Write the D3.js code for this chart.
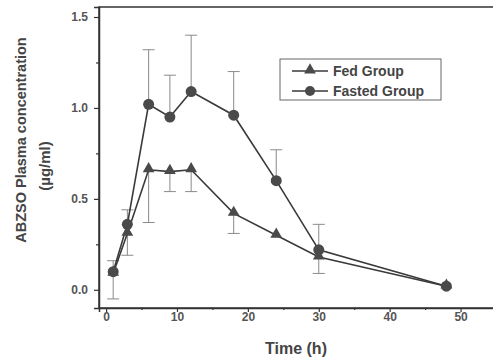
<!DOCTYPE html>
<html>
<head>
<meta charset="utf-8">
<script src="https://cdn.jsdelivr.net/npm/d3@7"></script>
<style>
  body { margin: 0; background: #fff; }
  svg { display: block; font-family: Arial, "Liberation Sans", sans-serif; }
</style>
</head>
<body>
<svg id="chart" width="493" height="360"></svg>
<script>
// sampling times (h)
const times = [1, 3, 6, 9, 12, 18, 24, 30, 48];
// mean plasma concentration (µg/ml)
const fedMean = [0.09, 0.31, 0.66, 0.65, 0.66, 0.42, 0.30, 0.18, 0.02];
const fastedMean = [0.10, 0.36, 1.02, 0.95, 1.09, 0.96, 0.60, 0.22, 0.02];
// one-sided SD bars: fed drawn down, fasted drawn up
const fedErr = [0.14, 0.12, 0.29, 0.11, 0.12, 0.11, 0, 0.09, 0];
const fastedErr = [0.06, 0.08, 0.30, 0.23, 0.31, 0.24, 0.17, 0.14, 0];

const xTicks = [0, 10, 20, 30, 40, 50];
const xMinor = [5, 15, 25, 35, 45];
const yTicks = [0.0, 0.5, 1.0, 1.5];
const yMinor = [0.25, 0.75, 1.25];

const svg = d3.select('#chart');
const margin = { top: 7, right: -3, bottom: 52, left: 99 };
const width = 493 - margin.left - margin.right;
const height = 360 - margin.top - margin.bottom;

const g = svg.append('g').attr('transform', `translate(${margin.left},${margin.top})`);

const x = d3.scaleLinear().domain([-1, 55]).range([0, width]);
const y = d3.scaleLinear().domain([-0.1, 1.555]).range([height, 0]);

const axisColor = '#333';
const labelColor = '#555';

// frame
g.append('rect')
  .attr('width', width).attr('height', height)
  .attr('fill', 'none').attr('stroke', axisColor).attr('stroke-width', 1.5);

// x axis
g.append('g').attr('transform', `translate(0,${height})`)
  .call(d3.axisBottom(x).tickValues(xTicks).tickSize(4).tickPadding(0).tickFormat(d3.format('d')));
g.append('g').attr('transform', `translate(0,${height})`)
  .call(d3.axisBottom(x).tickValues(xMinor).tickSize(2).tickFormat(''))
  .call(a => a.select('.domain').remove());

// y axis
g.append('g')
  .call(d3.axisLeft(y).tickValues(yTicks).tickSize(5).tickPadding(6).tickFormat(d3.format('.1f')));
g.append('g')
  .call(d3.axisLeft(y).tickValues(yMinor).tickSize(3).tickFormat(''))
  .call(a => a.select('.domain').remove());

g.selectAll('.domain').attr('stroke', axisColor).attr('stroke-width', 1.5);
g.selectAll('.tick line').attr('stroke', axisColor).attr('stroke-width', 1.2);
g.selectAll('.tick text')
  .attr('fill', labelColor).attr('font-size', 12).attr('font-weight', 'bold');

// error bars
function errorBars(vals, errs, dir) {
  const eg = g.append('g').attr('stroke', '#8a8a8a').attr('stroke-width', 1).attr('fill', 'none');
  times.forEach((t, i) => {
    if (!errs[i]) return;
    const y0 = y(vals[i]);
    const y1 = y(vals[i] + dir * errs[i]);
    eg.append('line').attr('x1', x(t)).attr('x2', x(t)).attr('y1', y0).attr('y2', y1);
    eg.append('line').attr('x1', x(t) - 6).attr('x2', x(t) + 6).attr('y1', y1).attr('y2', y1);
  });
}
errorBars(fastedMean, fastedErr, 1);
errorBars(fedMean, fedErr, -1);

const line = d3.line().x((d, i) => x(times[i])).y(d => y(d));
const lineColor = '#3a3a3a';
const markColor = '#4a4a4a';

g.append('path').datum(fedMean).attr('d', line)
  .attr('fill', 'none').attr('stroke', lineColor).attr('stroke-width', 1.6);
g.append('path').datum(fastedMean).attr('d', line)
  .attr('fill', 'none').attr('stroke', lineColor).attr('stroke-width', 1.6);

const tri = d3.symbol().type(d3.symbolTriangle).size(60);

g.selectAll('.fasted').data(fastedMean).enter().append('circle')
  .attr('class', 'fasted')
  .attr('cx', (d, i) => x(times[i])).attr('cy', d => y(d)).attr('r', 5.5)
  .attr('fill', markColor);

g.selectAll('.fed').data(fedMean).enter().append('path')
  .attr('class', 'fed')
  .attr('d', tri)
  .attr('transform', (d, i) => `translate(${x(times[i])},${y(d) - 1})`)
  .attr('fill', markColor);

// legend
const legend = svg.append('g').attr('transform', 'translate(280,59)');
legend.append('rect').attr('width', 161).attr('height', 41)
  .attr('fill', '#fff').attr('stroke', '#666').attr('stroke-width', 1);

const items = [
  { label: 'Fed Group', symbol: 'tri' },
  { label: 'Fasted Group', symbol: 'circle' }
];
items.forEach((it, i) => {
  const ly = 12 + i * 20;
  const row = legend.append('g').attr('transform', `translate(0,${ly})`);
  row.append('line').attr('x1', 12).attr('x2', 48).attr('y1', 0).attr('y2', 0)
    .attr('stroke', lineColor).attr('stroke-width', 1.5);
  if (it.symbol === 'tri') {
    row.append('path').attr('d', tri).attr('transform', 'translate(30,-1)').attr('fill', markColor);
  } else {
    row.append('circle').attr('cx', 30).attr('cy', 0).attr('r', 5).attr('fill', markColor);
  }
  row.append('text').attr('x', 53).attr('y', 0).attr('dy', '0.35em')
    .attr('font-size', 14).attr('font-weight', 'bold').attr('fill', '#444')
    .text(it.label);
});

// axis titles
svg.append('text')
  .attr('x', 296).attr('y', 354)
  .attr('text-anchor', 'middle')
  .attr('font-size', 16).attr('font-weight', 'bold').attr('fill', '#444')
  .text('Time (h)');

svg.append('text')
  .attr('transform', 'translate(21,140) rotate(-90)')
  .attr('text-anchor', 'middle').attr('dy', '0.35em')
  .attr('font-size', 14.5).attr('font-weight', 'bold').attr('fill', '#444')
  .text('ABZSO Plasma concentration');
svg.append('text')
  .attr('transform', 'translate(45,166) rotate(-90)')
  .attr('text-anchor', 'middle').attr('dy', '0.35em')
  .attr('font-size', 15).attr('font-weight', 'bold').attr('fill', '#444')
  .text('(µg/ml)');
</script>
</body>
</html>
